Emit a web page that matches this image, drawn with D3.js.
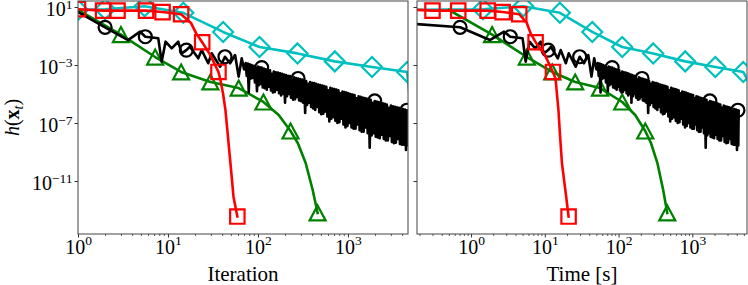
<!DOCTYPE html>
<html><head><meta charset="utf-8">
<script src="https://cdn.jsdelivr.net/npm/d3@7"></script>
<style>body{margin:0;background:#fff}svg{display:block}</style>
</head><body><svg id="c" width="748" height="285"></svg>
<script>
// ---------- data (values are log10 h(x_t)) ----------
const cyanIter = [1, 2, 5.5, 14.8, 41, 104, 275, 715, 1850, 4550, 5000];
const cyanTime = [0.1, 1.45, 5.1, 16, 44, 112, 295, 800, 2050, 4900, 9000];
const cyanLogH = [0.8, 0.85, 1.05, 0.6, -0.72, -1.76, -2.2, -2.75, -3.14, -3.48, -6.0];
const cyanMarks = [0, 1, 2, 3, 4, 5, 6, 7, 8, 9];

const greenIter = [1, 3, 7.2, 14, 29.6, 61, 115, 170, 230, 277, 339, 405, 460];
const greenTime = [0.5, 1.93, 5.7, 12.6, 25.8, 56, 112, 168, 230, 275, 336, 402, 457];
const greenLogH = [0.8, -0.9, -2.45, -3.48, -4.17, -4.59, -5.55, -6.45, -7.55, -8.38, -9.76, -11.6, -13.2];
const greenMarks = [1, 2, 3, 4, 5, 6, 8, 12];

const blackIter = [1, 2, 3.6, 4.9, 5.6, 7.8, 8.5, 9.4, 11, 13, 14.2, 16, 17.5, 21.7, 23.7, 28, 30.6, 38, 43, 49, 55.7, 61, 66, 70,
  73, 75, 77, 79, 81, 83, 85, 87.5, 90, 92.5, 95, 97.5, 100, 102.5, 105, 107.5, 110, 113, 116, 119, 122, 125.5, 129, 132.5, 136, 139.5,
  143, 146.5, 150, 154, 158, 162.5, 167, 171.5, 176, 180.5, 185, 190, 195, 200, 205, 210.5, 216, 221.5, 227, 233, 239, 245.5, 252, 258.5,
  265, 272, 279, 286.5, 294, 302, 310, 318, 326, 334.5, 343, 352, 361, 370.5, 380, 390, 400, 411, 422, 433, 444, 456, 468, 480,
  492, 505, 518, 532, 546, 560, 575, 590, 605, 621, 637, 654, 671, 689, 707, 725, 744, 764, 784, 804, 825, 847, 869, 892,
  915, 939, 963, 988, 1014, 1041, 1068, 1096, 1125, 1154, 1184, 1215, 1247, 1280, 1313, 1348, 1383, 1419, 1456, 1494, 1533, 1573,
  1614, 1657, 1700, 1745, 1790, 1837, 1885, 1935, 1985, 2037, 2090, 2145, 2200, 2258, 2317, 2378, 2440, 2504, 2569, 2636, 2705, 2776,
  2849, 2924, 3000, 3079, 3159, 3242, 3326, 3413, 3502, 3594, 3688, 3785, 3883, 3985, 4089, 4196, 4306, 4419, 4534, 4592, 4650];
const blackTime = [0.001, 0.71, 1.8, 2.8, 3.4, 5.0, 5.5, 6.2, 7.4, 8.8, 9.7, 11.1, 12.1, 15, 16.4, 19.3, 21.1, 26.2, 29.7, 34, 38.8, 42.9, 46.7, 50,
  52.3, 53.8, 55.4, 57, 58.6, 60.1, 61.7, 63.6, 65.6, 67.5, 69.5, 71.5, 73.5, 75.5, 77.6, 79.7, 81.8, 84.4, 87, 89.2, 91.5, 94.1, 96.8, 99.4, 102, 104.5,
  107, 109.5, 112, 115, 118, 121.5, 125, 128.5, 132, 135, 138, 142, 146, 149.5, 153, 157, 161, 165, 169, 173.5, 178, 183, 188, 192.5,
  197, 202.5, 208, 213.5, 219, 225.5, 232, 238.5, 245, 252, 259, 266.5, 274, 282, 290, 298.5, 307, 316.5, 326, 335.5, 345, 355.5, 366, 376.5,
  387, 398.5, 410, 422, 434, 447, 460, 473.5, 487, 501.5, 516, 531.5, 547, 563.5, 580, 597, 614, 632.5, 651, 670, 689, 709.5, 730, 751.5,
  773, 796, 819, 843, 867, 892, 918, 943, 968, 996, 1024, 1051, 1079, 1107, 1136, 1166, 1196, 1227, 1259, 1292, 1326, 1360,
  1396, 1437, 1479, 1518, 1557, 1598, 1640, 1683, 1727, 1772, 1818, 1871, 1925, 1975, 2027, 2086, 2147, 2203, 2261, 2327, 2394, 2457,
  2522, 2595, 2670, 2740, 2812, 2893, 2977, 3055, 3134, 3225, 3319, 3416, 3514, 3606, 3700, 3808, 3919, 4032, 4148, 4199, 4250];
const blackLogH = [0.66, -0.4, -1.28, -0.7, -1.05, -1.16, -2.77, -1.39, -1.85, -1.39, -2.2, -1.97, -1.74, -2.54, -1.97, -2.88, -2.19, -3.12, -2.43, -2.88, -2.31, -3.8, -2.54, -3.3,
  -2.86, -3.75, -2.9, -4.9, -2.95, -3.95, -3.0, -3.9, -3.05, -4.2, -3.2, -4.8, -3.11, -4.4, -3.15, -4.3, -3.18, -4.55, -3.24, -4.6, -3.3, -4.7, -3.33, -4.5, -3.36, -4.75,
  -3.6, -4.9, -3.45, -4.85, -3.5, -4.7, -3.52, -4.95, -3.58, -5.1, -3.6, -5.0, -3.66, -5.6, -3.7, -5.15, -3.74, -5.0, -3.77, -5.25, -4.0, -5.4, -3.85, -5.35,
  -3.9, -5.2, -3.93, -5.45, -3.97, -5.5, -4.0, -5.6, -4.06, -6.3, -4.1, -5.75, -4.3, -5.6, -4.17, -5.9, -4.22, -6.0, -4.25, -6.1, -4.3, -5.9, -4.35, -6.25,
  -4.39, -6.4, -4.42, -6.35, -4.46, -6.2, -4.5, -6.55, -4.75, -6.9, -4.58, -6.7, -4.62, -6.6, -4.65, -6.85, -4.7, -7.0, -4.75, -6.95, -4.95, -6.7, -4.83, -7.1,
  -4.87, -7.3, -4.9, -7.2, -4.95, -7.0, -5.0, -7.3, -5.03, -7.4, -5.07, -7.4, -5.3, -7.1, -5.15, -7.5, -5.2, -7.6, -5.24, -7.6, -5.28, -7.3,
  -5.32, -7.7, -5.36, -8.7, -5.4, -7.85, -5.6, -7.7, -5.48, -7.95, -5.52, -8.0, -5.56, -8.05, -5.6, -7.8, -5.64, -8.1, -5.68, -8.2, -5.72, -8.2,
  -5.95, -7.9, -5.8, -8.3, -5.84, -8.4, -5.88, -8.35, -5.92, -8.1, -5.96, -8.45, -6.15, -8.5, -6.04, -8.5, -6.08, -8.86, -6.12, -8.55, -6.15];
const blackMarks = [1, 4, 11, 18, 40, 76, 152, 184];

const redIter = [1, 1.9, 2.75, 5.7, 8.7, 14, 18, 20.5, 24, 29.5, 36.4, 38, 41, 43.5, 46, 49.5, 53.5, 59];
const redTime = [0.12, 0.3, 0.67, 1.68, 2.68, 4.5, 5.7, 6.4, 7.5, 10, 12.9, 14, 14.6, 15.3, 16, 17.1, 19.5, 21];
const redLogH = [0.85, 0.75, 0.75, 0.75, 0.65, 0.5, -0.1, -0.8, -1.43, -2.3, -3.48, -3.95, -5.0, -6.1, -7.7, -9.8, -12.1, -13.45];
const redMarks = [0, 1, 2, 3, 4, 5, 8, 10, 17];

const xMajorTicks = [1, 10, 100, 1000];
const yTickExps = [1, -3, -7, -11];
const xLabels = ["Iteration", "Time [s]"];

// ---------- drawing ----------
const FONT = "'Liberation Serif','DejaVu Serif','Times New Roman',serif";
const svg = d3.select('#c');
svg.append('rect').attr('width', 748).attr('height', 285).attr('fill', '#fff');
const yTop = 1, yBot = 234;
const y = d3.scaleLog().domain([Math.pow(10, -14.655), Math.pow(10, 1.414)]).range([yBot, yTop]);

const panels = [
  {x0: 78, x1: 408, domain: [1, 4650], key: 'iter', showY: true},
  {x0: 417, x1: 747, domain: [0.185, 5510], key: 'time', showY: false}
];
const series = [
  {color: '#00bfbf', iter: cyanIter, time: cyanTime, logh: cyanLogH, marks: cyanMarks, marker: 'diamond'},
  {color: '#008000', iter: greenIter, time: greenTime, logh: greenLogH, marks: greenMarks, marker: 'triangle'},
  {color: '#000000', iter: blackIter, time: blackTime, logh: blackLogH, marks: blackMarks, marker: 'circle'},
  {color: '#ff0000', iter: redIter, time: redTime, logh: redLogH, marks: redMarks, marker: 'square'}
];
const markerPaths = {
  square: 'M-7.2,-7.2H7.2V7.2H-7.2Z',
  diamond: 'M0,-10L10,0L0,10L-10,0Z',
  circle: 'M6.5,0A6.5,6.5 0 1,1 -6.5,0A6.5,6.5 0 1,1 6.5,0Z',
  triangle: 'M0,-7.5L8,7.5L-8,7.5Z'
};
const defs = svg.append('defs');

function supLabel(sel, exp, supDy) {
  sel.text(null);
  sel.append('tspan').text('10');
  sel.append('tspan').attr('dy', supDy).attr('font-size', '13.5px')
    .text(exp < 0 ? '\u2212' + Math.abs(exp) : String(exp));
}

panels.forEach((p, pi) => {
  const x = d3.scaleLog().domain(p.domain).range([p.x0, p.x1]);
  defs.append('clipPath').attr('id', 'clip' + pi).append('rect')
    .attr('x', p.x0).attr('y', yTop).attr('width', p.x1 - p.x0).attr('height', yBot - yTop);
  const plot = svg.append('g').attr('clip-path', `url(#clip${pi})`);
  series.forEach(s => {
    const pts = s[p.key].map((xv, i) => [xv, Math.pow(10, s.logh[i])]);
    plot.append('path')
      .attr('d', d3.line().x(d => x(d[0])).y(d => y(d[1]))(pts))
      .attr('fill', 'none').attr('stroke', s.color).attr('stroke-width', 2.6)
      .attr('stroke-linejoin', 'round').attr('stroke-linecap', 'square');
    plot.selectAll(null).data(s.marks.map(i => pts[i])).enter().append('path')
      .attr('transform', d => `translate(${x(d[0])},${y(d[1])})`)
      .attr('d', markerPaths[s.marker])
      .attr('fill', 'none').attr('stroke', s.color).attr('stroke-width', 2.2)
      .attr('stroke-linejoin', 'miter');
  });

  // spines
  svg.append('rect').attr('x', p.x0).attr('y', yTop).attr('width', p.x1 - p.x0).attr('height', yBot - yTop)
    .attr('fill', 'none').attr('stroke', '#555').attr('stroke-width', 1.1);

  // x minor ticks
  const minors = x.ticks().filter(v => !xMajorTicks.some(m => Math.abs(m - v) < 1e-9));
  const gxm = svg.append('g').attr('transform', `translate(0,${yBot})`)
    .call(d3.axisBottom(x).tickValues(minors).tickSize(2).tickSizeOuter(0).tickFormat(''));
  gxm.select('.domain').remove();
  gxm.selectAll('line').attr('stroke', '#333').attr('stroke-width', 0.8);

  // x major ticks
  const gx = svg.append('g').attr('transform', `translate(0,${yBot})`)
    .call(d3.axisBottom(x).tickValues(xMajorTicks).tickSize(3.5).tickSizeOuter(0));
  gx.select('.domain').remove();
  gx.selectAll('line').attr('stroke', '#333').attr('stroke-width', 1);
  gx.selectAll('text')
    .attr('y', 19.5).attr('dy', 0).attr('font-family', FONT).attr('font-size', '20px')
    .attr('fill', '#000').attr('text-anchor', 'middle')
    .each(function (d) { supLabel(d3.select(this), Math.round(Math.log10(d)), -9); });

  // y ticks
  const gy = svg.append('g').attr('transform', `translate(${p.x0},0)`)
    .call(d3.axisLeft(y).tickValues(yTickExps.map(e => Math.pow(10, e))).tickSize(3.5).tickSizeOuter(0));
  gy.select('.domain').remove();
  gy.selectAll('line').attr('stroke', '#333').attr('stroke-width', 1);
  if (p.showY) {
    gy.selectAll('text')
      .attr('x', -5.5).attr('y', 8).attr('dy', 0).attr('font-family', FONT).attr('font-size', '20px')
      .attr('fill', '#000').attr('text-anchor', 'end')
      .each(function (d) { supLabel(d3.select(this), Math.round(Math.log10(d)), -7); });
  } else {
    gy.selectAll('text').remove();
  }

  // x label
  svg.append('text').attr('x', (p.x0 + p.x1) / 2).attr('y', 281)
    .attr('text-anchor', 'middle').attr('font-family', FONT).attr('font-size', '21px')
    .text(xLabels[pi]);
});

// y label h(x_t)
const yl = svg.append('text').attr('transform', 'translate(18.5,117.5) rotate(-90)')
  .attr('text-anchor', 'middle').attr('font-family', FONT).attr('font-size', '20px');
yl.append('tspan').attr('font-style', 'italic').text('h');
yl.append('tspan').text('(');
yl.append('tspan').attr('font-weight', 'bold').text('x');
yl.append('tspan').attr('font-style', 'italic').attr('font-size', '14px').attr('dy', 4).text('t');
yl.append('tspan').attr('dy', -4).text(')');
</script>
</body></html>
